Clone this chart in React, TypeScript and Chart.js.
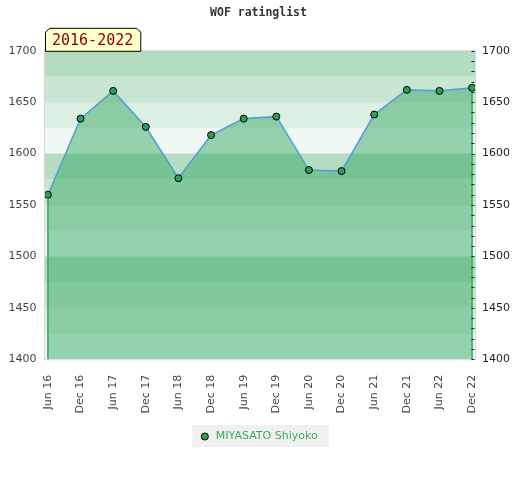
import React, { useEffect, useRef } from "react";
import { Chart, registerables } from "chart.js";

Chart.register(...registerables);

const chartTitle = "WOF ratinglist";
const periodLabel = "2016-2022";
const playerName = "MIYASATO Shiyoko";
const periods = [
  "Jun 16", "Dec 16", "Jun 17", "Dec 17", "Jun 18", "Dec 18", "Jun 19",
  "Dec 19", "Jun 20", "Dec 20", "Jun 21", "Dec 21", "Jun 22", "Dec 22",
];
const ratings = [1560, 1634, 1661, 1626, 1576, 1618, 1634, 1636, 1584, 1583, 1638, 1662, 1661, 1664];
const yMin = 1400;
const yMax = 1700;
const majorStep = 50;
const minorStep = 10;
const bandStep = 25;
const bandColors = ["#b3dcc1", "#c8e6d2", "#dcefe3", "#eff8f2"];

const FONT = "'DejaVu Sans', sans-serif";

const decorPlugin = {
  id: "decor",
  beforeDraw(chart: any) {
    const { ctx, chartArea } = chart;
    const y = chart.scales.y;
    ctx.save();
    for (let v = yMin; v < yMax; v += bandStep) {
      const top = v + bandStep;
      const idx = Math.round((yMax - top) / bandStep) % bandColors.length;
      const py1 = y.getPixelForValue(top);
      const py2 = y.getPixelForValue(v);
      ctx.fillStyle = bandColors[idx];
      ctx.fillRect(chartArea.left, py1, chartArea.right - chartArea.left, py2 - py1);
    }
    ctx.strokeStyle = "#d6d6d6";
    ctx.lineWidth = 1;
    ctx.strokeRect(chartArea.left - 0.5, chartArea.top - 0.5, chartArea.right - chartArea.left + 1, chartArea.bottom - chartArea.top + 1);
    const lg = chart.legend;
    if (lg && lg.legendHitBoxes && lg.legendHitBoxes.length) {
      const hb = lg.legendHitBoxes[0];
      ctx.fillStyle = "#f0f0f0";
      ctx.fillRect(hb.left - 7, hb.top - 6, hb.width + 18, hb.height + 11);
    }
    ctx.restore();
  },
  afterDatasetsDraw(chart: any) {
    const { ctx, chartArea } = chart;
    const meta = chart.getDatasetMeta(0);
    const pts = meta.data;
    if (!pts.length) return;
    ctx.save();
    ctx.strokeStyle = "#2fa85a";
    ctx.lineWidth = 1.5;
    [pts[0], pts[pts.length - 1]].forEach((p: any) => {
      ctx.beginPath();
      ctx.moveTo(p.x, p.y + 4);
      ctx.lineTo(p.x, chartArea.bottom);
      ctx.stroke();
    });
    const y1 = chart.scales.y1;
    ctx.strokeStyle = "#222";
    ctx.lineWidth = 1;
    y1.ticks.forEach((t: any) => {
      const py = Math.round(y1.getPixelForValue(t.value)) + 0.5;
      ctx.beginPath();
      ctx.moveTo(chartArea.right - 3.5, py);
      ctx.lineTo(chartArea.right - 0.5, py);
      ctx.stroke();
    });
    ctx.restore();
  },
  afterDraw(chart: any) {
    const { ctx, chartArea } = chart;
    ctx.save();
    ctx.font = "15px 'DejaVu Sans Mono', monospace";
    const tw = ctx.measureText(periodLabel).width;
    const w = tw + 14;
    const h = 23;
    const c = 4;
    const l = chartArea.left + 0.5;
    const b = chartArea.top + 0.5;
    ctx.beginPath();
    ctx.moveTo(l, b);
    ctx.lineTo(l, b - h + c);
    ctx.lineTo(l + c, b - h);
    ctx.lineTo(l + w - c, b - h);
    ctx.lineTo(l + w, b - h + c);
    ctx.lineTo(l + w, b);
    ctx.closePath();
    ctx.fillStyle = "#ffffcc";
    ctx.fill();
    ctx.strokeStyle = "#000";
    ctx.lineWidth = 1;
    ctx.stroke();
    ctx.fillStyle = "#8b0000";
    ctx.textAlign = "left";
    ctx.textBaseline = "middle";
    ctx.fillText(periodLabel, l + 6.5, b - h / 2 + 1);
    ctx.restore();
  },
};

export default function App() {
  const ref = useRef<HTMLCanvasElement>(null);
  useEffect(() => {
    if (!ref.current) return;
    const chart = new Chart(ref.current, {
      type: "line",
      data: {
        datasets: [
          {
            label: playerName,
            data: ratings.map((v, i) => ({ x: i, y: v })),
            borderColor: "rgba(80,155,215,0.95)",
            borderWidth: 1.6,
            backgroundColor: "rgba(57,170,103,0.5)",
            fill: "start",
            tension: 0,
            pointRadius: 3.5,
            pointBackgroundColor: "#2f9e5a",
            pointBorderColor: "#000",
            pointBorderWidth: 1,
            yAxisID: "y",
          },
        ],
      },
      options: {
        animation: false,
        responsive: true,
        maintainAspectRatio: false,
        layout: { padding: { left: 0, right: 3, top: 0, bottom: 28 } },
        plugins: {
          title: {
            display: true,
            text: chartTitle,
            color: "#333",
            font: { family: "'DejaVu Sans Mono', monospace", size: 11.5, weight: "bold" },
            padding: { top: 6, bottom: 31 },
          },
          legend: {
            position: "bottom",
            labels: {
              usePointStyle: true,
              pointStyle: "circle",
              boxHeight: 5,
              boxWidth: 11,
              color: "#3aaa5e",
              font: { family: FONT, size: 11 },
              padding: 10,
            },
          },
          tooltip: { enabled: false },
        },
        scales: {
          x: {
            type: "linear",
            min: -0.09,
            max: periods.length - 1 + 0.09,
            grid: { display: false },
            border: { display: false },
            ticks: {
              stepSize: 1,
              includeBounds: false,
              autoSkip: false,
              maxRotation: 90,
              minRotation: 90,
              padding: 7.5,
              color: "#444",
              font: { family: FONT, size: 11 },
              callback: (v: any) => periods[v] ?? "",
            },
          },
          y: {
            position: "left",
            min: yMin,
            max: yMax,
            grid: { color: "#e2e2e2", drawTicks: false },
            border: { display: false },
            ticks: {
              stepSize: majorStep,
              padding: 8.5,
              color: "#444",
              font: { family: FONT, size: 11 },
              callback: (v: any) => String(v),
            },
          },
          y1: {
            position: "right",
            min: yMin,
            max: yMax,
            grid: { drawOnChartArea: false, drawTicks: false },
            border: { display: false },
            ticks: {
              stepSize: minorStep,
              autoSkip: false,
              padding: 7,
              color: "#222",
              font: { family: FONT, size: 11 },
              callback: (v: any) => (v % majorStep === 0 ? String(v) : ""),
            },
          },
        },
      },
      plugins: [decorPlugin],
    });
    return () => chart.destroy();
  }, []);
  return (
    <div style={{ position: "absolute", left: 0, top: 0, width: 520, height: 480 }}>
      <canvas ref={ref} />
    </div>
  );
}
